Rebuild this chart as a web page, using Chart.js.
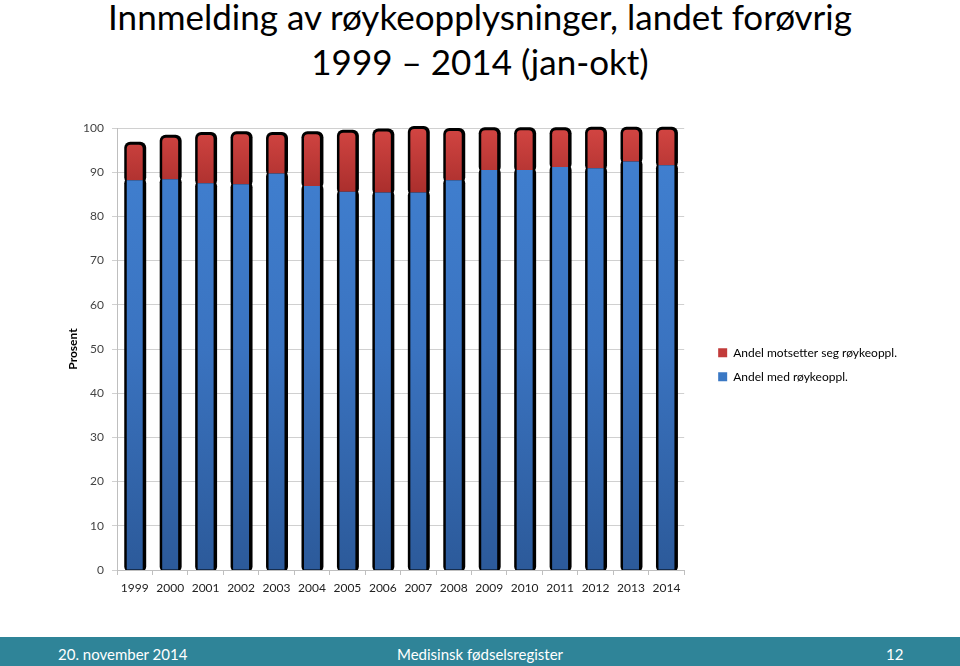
<!DOCTYPE html>
<html><head><meta charset="utf-8">
<script src="https://cdn.jsdelivr.net/npm/chart.js@4.4.1/dist/chart.umd.min.js"></script>
<style>
html,body{margin:0;padding:0;background:#fff;width:960px;height:666px;overflow:hidden;font-family:Lato,"Open Sans",sans-serif;}
#title{position:absolute;left:0;top:-6px;width:960px;text-align:center;font-size:35px;line-height:45px;color:#000;font-family:Lato,sans-serif;}
#wrap{position:absolute;left:0;top:95px;width:960px;height:520px;}
#footer{position:absolute;left:0;top:637px;width:960px;height:29px;background:#2f8498;color:#fff;font-size:15px;font-family:Lato,sans-serif;}
#footer span{position:absolute;top:8px;}
</style></head>
<body>
<div id="title">Innmelding av røykeopplysninger, landet forøvrig<br>1999 – 2014 (jan-okt)</div>
<div id="wrap"><canvas id="c"></canvas></div>
<div id="footer"><span style="left:58px">20. november 2014</span><span style="left:0;width:960px;text-align:center">Medisinsk fødselsregister</span><span style="left:886px">12</span></div>
<script>
const years = ["1999","2000","2001","2002","2003","2004","2005","2006","2007","2008","2009","2010","2011","2012","2013","2014"];
const andelMed = [88.2,88.4,87.5,87.3,89.7,86.9,85.6,85.4,85.4,88.2,90.5,90.5,91.2,90.9,92.4,91.6];
const andelMotsetter = [8.0,9.4,10.9,11.3,8.7,11.7,13.3,13.8,14.4,11.1,9.0,9.0,8.3,8.7,7.2,8.0];
const seriesNames = ["Andel med røykeoppl.","Andel motsetter seg røykeoppl."];
const yTicks = {min:0,max:100,step:10};

function blueGrad(ctx){
  const ch = ctx.chart; const a = ch.chartArea; if(!a) return '#3a78c4';
  const g = ch.ctx.createLinearGradient(0,a.top,0,a.bottom);
  g.addColorStop(0,'#4181d2'); g.addColorStop(0.5,'#3a73c0'); g.addColorStop(1,'#2c5a9a');
  return g;
}
function redGrad(ctx){
  const ch = ctx.chart; const a = ch.chartArea; if(!a) return '#c23b3a';
  const y = ch.scales.y;
  const g = ch.ctx.createLinearGradient(0,y.getPixelForValue(100),0,y.getPixelForValue(85));
  g.addColorStop(0,'#d24542'); g.addColorStop(1,'#a92e2c');
  return g;
}

const outlinePlugin = {
  id:'outline',
  beforeDatasetsDraw(chart){
    const c = chart.ctx; const a = chart.chartArea;
    c.save();
    c.beginPath(); c.rect(a.left, a.top-10, a.right-a.left, a.bottom-a.top+10); c.clip();
    c.fillStyle = '#000';
    chart.data.datasets.forEach((ds,di)=>{
      const meta = chart.getDatasetMeta(di);
      meta.data.forEach(el=>{
        const p = el.getProps(['x','y','base','width'],true);
        const l = p.x - p.width/2 - 2.5, r = p.x + p.width/2 + 3.5;
        const top = p.y - 3, bot = p.base + 3;
        c.beginPath(); c.roundRect(l, top, r-l, bot-top, 6); c.fill();
      });
    });
    c.restore();
  }
};
const legendShift = {
  id:'legendShift',
  afterLayout(chart){
    const lg = chart.legend;
    if(lg){ const w = lg.right - lg.left; lg.left = chart.chartArea.right + 22; lg.right = lg.left + w; }
  }
};

new Chart(document.getElementById('c'),{
  type:'bar',
  data:{
    labels: years,
    datasets:[
      {label:seriesNames[0], data:andelMed, backgroundColor:blueGrad, borderWidth:0, legendColor:'#3a78c4'},
      {label:seriesNames[1], data:andelMotsetter, backgroundColor:redGrad, borderWidth:0, borderRadius:{topLeft:4,topRight:4}, borderSkipped:false, legendColor:'#c23b3a'}
    ]
  },
  plugins:[outlinePlugin, legendShift],
  options:{
    responsive:true, maintainAspectRatio:false, animation:false,
    layout:{padding:{left:62,top:33,right:75,bottom:13.6}},
    datasets:{bar:{barPercentage:0.45,categoryPercentage:1}},
    plugins:{
      legend:{position:'right', reverse:true,
        labels:{boxWidth:9, boxHeight:9, padding:12, color:'#222', font:{family:'Lato', size:12},
          generateLabels(chart){
            return chart.data.datasets.map((d,i)=>({text:d.label, fillStyle:d.legendColor, strokeStyle:d.legendColor, lineWidth:0, hidden:false, datasetIndex:i}));
          }}},
      tooltip:{enabled:false}
    },
    scales:{
      x:{stacked:true, grid:{display:true, drawOnChartArea:false, offset:true, tickLength:5, color:'#bfbfbf'},
         border:{color:'#bfbfbf'},
         ticks:{color:'#222', font:{family:'Lato', size:12}, padding:6, maxRotation:0, autoSkip:false}},
      y:{stacked:true, min:yTicks.min, max:yTicks.max,
         afterFit(s){ s.width = 55; },
         grid:{color:'#d0d0d0', tickLength:5},
         border:{color:'#bfbfbf'},
         title:{display:true, text:'Prosent', color:'#000', font:{family:'Lato', size:12, weight:'bold'}, padding:{top:4,bottom:0}},
         ticks:{stepSize:yTicks.step, color:'#444', font:{family:'Lato', size:12}, padding:8}}
    }
  }
});
</script>
</body></html>
